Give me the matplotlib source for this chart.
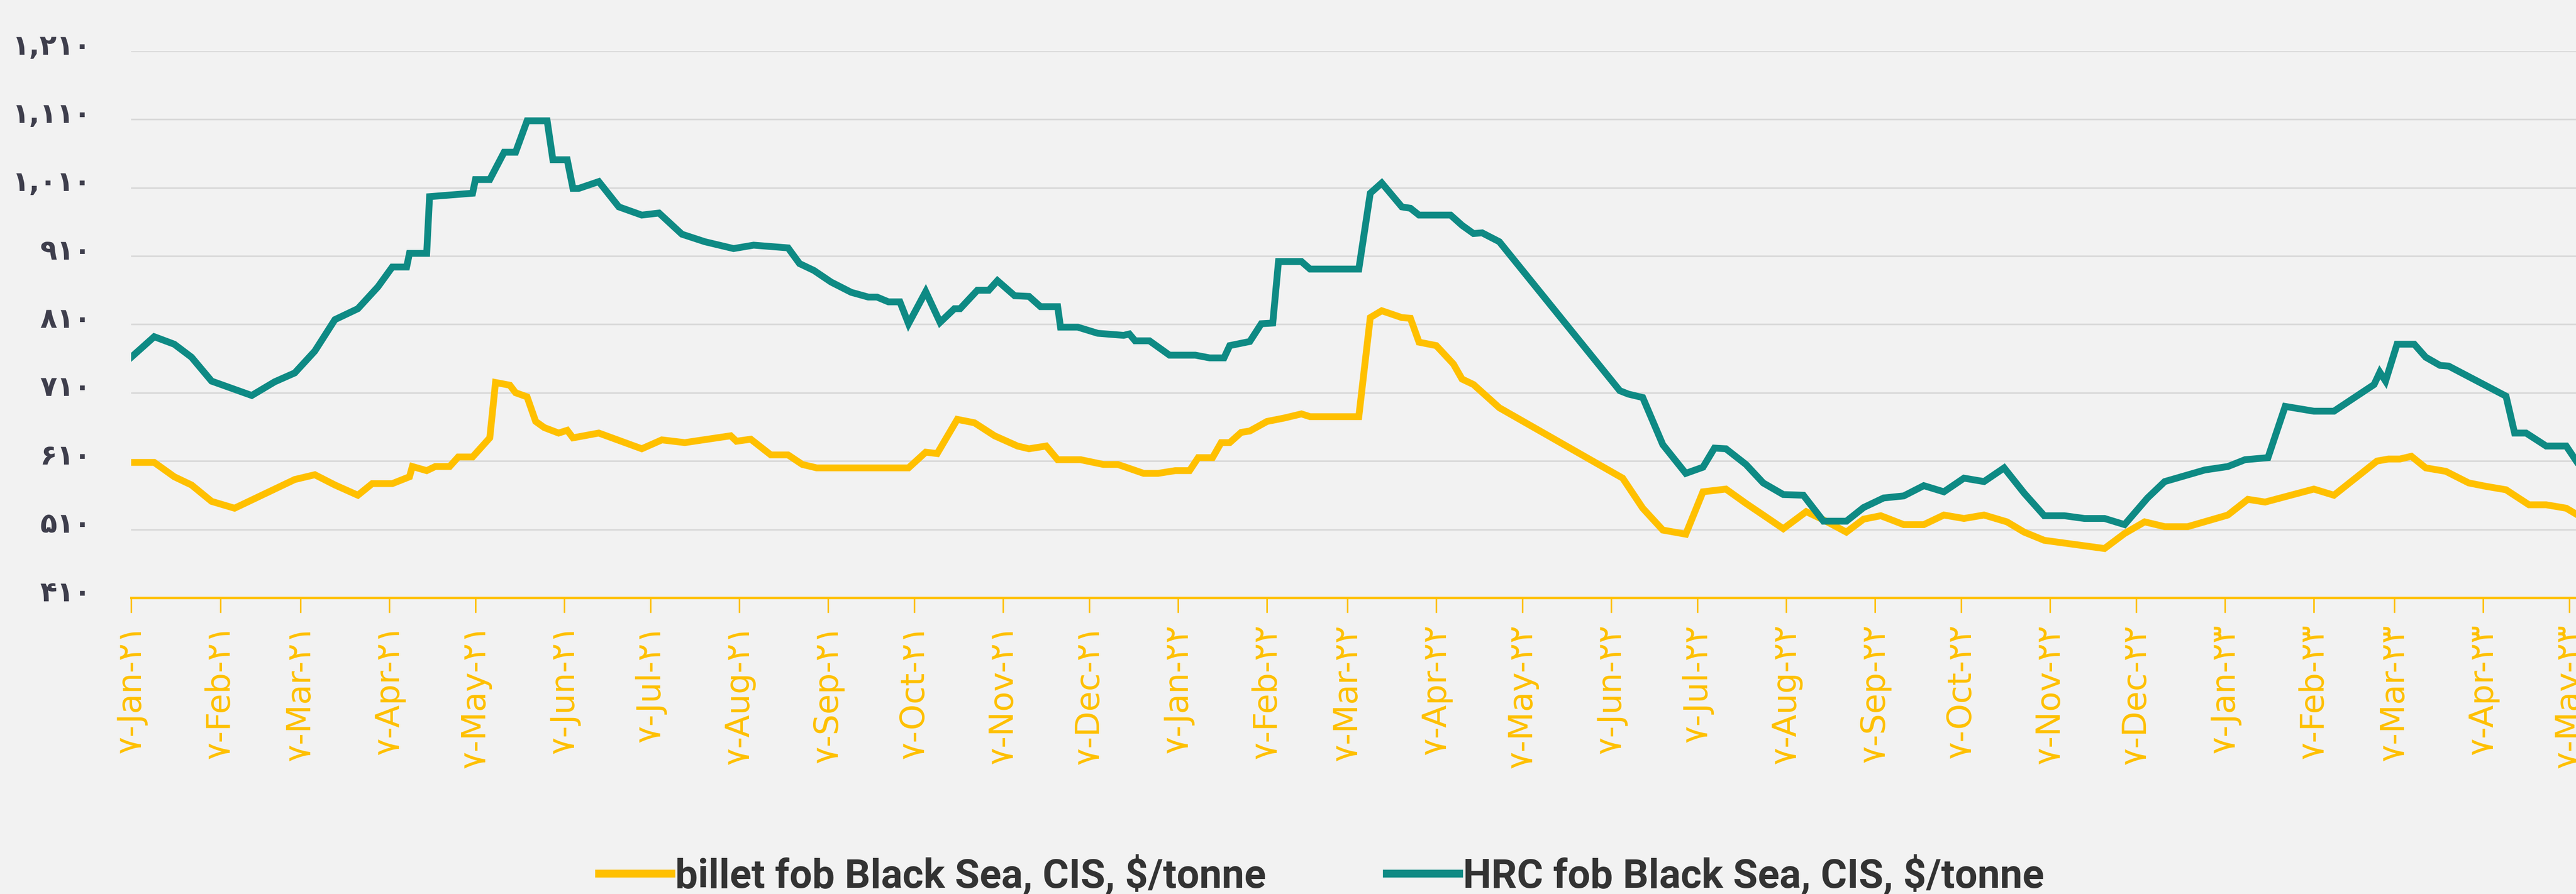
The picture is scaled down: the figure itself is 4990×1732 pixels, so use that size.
import numpy as np
import matplotlib
matplotlib.use("Agg")
import matplotlib.pyplot as plt
import matplotlib.dates as mdates
import matplotlib.transforms as mtransforms
from matplotlib.lines import Line2D

# ---------------- data (days since 7 Jan 2021, $/tonne) ----------------
start_date = "2021-01-07"

billet_days = [0, 8, 15, 21, 28, 36, 42, 50, 57, 64, 71, 79, 84, 91, 97, 98, 103, 106, 111, 114,
               119, 125, 127, 132, 134, 138, 141, 144, 149, 152, 154, 163, 178, 185, 193, 209, 211,
               216, 223, 229, 234, 239, 271, 277, 281, 288, 294, 301, 309, 313, 319, 323, 331, 339,
               344, 353, 358, 364, 369, 372, 377, 380, 383, 387, 390, 396, 402, 408, 411, 428, 432,
               436, 443, 446, 449, 455, 461, 464, 468, 477, 520, 527, 534, 542, 548, 556, 563, 569,
               576, 584, 590, 598, 604, 610, 618, 625, 632, 639, 646, 654, 660, 667, 688, 695, 702,
               709, 717, 731, 738, 744, 761, 768, 783, 787, 791, 795, 800, 807, 815, 821, 828, 836,
               842, 849, 853]
billet_vals = [608, 608, 587, 575, 551, 541, 553, 569, 583, 590, 575, 560, 577, 577, 587, 602, 596, 602, 602, 616,
               616, 644, 725, 721, 710, 704, 668, 659, 651, 655, 644, 651, 628, 641, 637, 647, 639,
               642, 619, 619, 605, 600, 600, 623, 621, 671, 666, 647, 632, 628, 632, 612, 612, 605,
               605, 592, 592, 596, 596, 615, 615, 637, 637, 652, 654, 668, 673, 679, 675, 675, 820,
               830, 820, 819, 784, 779, 752, 730, 722, 688, 585, 541, 509, 503, 565, 569, 548, 531,
               511, 536, 524, 506, 525, 530, 517, 517, 531, 526, 531, 521, 506, 494, 482, 504, 521,
               514, 514, 531, 554, 550, 569, 560, 610, 613, 613, 617, 600, 595, 578, 573, 568, 546,
               546, 541, 531]

hrc_days = [0, 8, 15, 21, 28, 36, 42, 50, 57, 64, 71, 79, 86, 91, 96, 97, 103, 104, 110, 119,
            120, 125, 130, 134, 138, 145, 147, 152, 154, 156, 163, 170, 178, 184, 192, 200, 210,
            217, 229, 233, 238, 244, 251, 257, 260, 264, 268, 271, 277, 282, 287, 289, 295, 299,
            302, 308, 313, 317, 323, 324, 330, 337, 346, 348, 350, 355, 362, 371, 376, 381, 383,
            390, 394, 398, 400, 408, 411, 428, 432, 436, 443, 446, 449, 460, 464, 468, 471, 477,
            519, 522, 527, 534, 542, 548, 552, 556, 563, 569, 576, 583, 590, 598, 604, 611, 618,
            625, 632, 639, 646, 653, 660, 667, 674, 681, 688, 695, 703, 709, 723, 731, 737, 745,
            751, 761, 768, 782, 784, 786, 790, 796, 800, 805, 808, 828, 831, 835, 842, 849, 853]
hrc_vals = [762, 792, 781, 762, 727, 715, 706, 726, 739, 771, 817, 833, 865, 894, 894, 914, 914, 997, 999, 1002,
            1022, 1022, 1062, 1062, 1108, 1108, 1051, 1051, 1009, 1009, 1019, 982, 970, 973, 942, 931, 921,
            926, 922, 899, 889, 872, 857, 850, 850, 843, 843, 811, 858, 813, 833, 833, 860, 860,
            874, 852, 851, 836, 836, 806, 806, 797, 794, 796, 786, 786, 765, 765, 761, 761, 779,
            785, 811, 812, 902, 902, 891, 891, 1002, 1017, 982, 980, 970, 970, 955, 943, 944, 931,
            713, 708, 703, 634, 592, 601, 629, 628, 605, 578, 561, 560, 522, 522, 542, 556, 559,
            574, 565, 585, 580, 600, 563, 530, 530, 526, 526, 517, 556, 580, 597, 602, 612, 615,
            690, 683, 683, 722, 740, 727, 781, 781, 762, 750, 749, 705, 651, 651, 632, 632, 607]

y_ticks = [410, 510, 610, 710, 810, 910, 1010, 1110, 1210]
y_tick_labels = ["۴۱۰", "۵۱۰", "۶۱۰", "۷۱۰", "۸۱۰", "۹۱۰", "۱,۰۱۰", "۱,۱۱۰", "۱,۲۱۰"]

tick_dates = ["2021-01-07", "2021-02-07", "2021-03-07", "2021-04-07", "2021-05-07", "2021-06-07",
              "2021-07-07", "2021-08-07", "2021-09-07", "2021-10-07", "2021-11-07", "2021-12-07",
              "2022-01-07", "2022-02-07", "2022-03-07", "2022-04-07", "2022-05-07", "2022-06-07",
              "2022-07-07", "2022-08-07", "2022-09-07", "2022-10-07", "2022-11-07", "2022-12-07",
              "2023-01-07", "2023-02-07", "2023-03-07", "2023-04-07", "2023-05-07"]
x_tick_labels = ["۷-Jan-۲۱", "۷-Feb-۲۱", "۷-Mar-۲۱", "۷-Apr-۲۱", "۷-May-۲۱", "۷-Jun-۲۱",
                 "۷-Jul-۲۱", "۷-Aug-۲۱", "۷-Sep-۲۱", "۷-Oct-۲۱", "۷-Nov-۲۱", "۷-Dec-۲۱",
                 "۷-Jan-۲۲", "۷-Feb-۲۲", "۷-Mar-۲۲", "۷-Apr-۲۲", "۷-May-۲۲", "۷-Jun-۲۲",
                 "۷-Jul-۲۲", "۷-Aug-۲۲", "۷-Sep-۲۲", "۷-Oct-۲۲", "۷-Nov-۲۲", "۷-Dec-۲۲",
                 "۷-Jan-۲۳", "۷-Feb-۲۳", "۷-Mar-۲۳", "۷-Apr-۲۳", "۷-May-۲۳"]

series_names = ["billet fob Black Sea, CIS, $/tonne", "HRC fob Black Sea, CIS, $/tonne"]

# ---------------- styling ----------------
BG = "#F2F2F2"
YELLOW = "#FFC000"
TEAL = "#0E8A84"
GRID = "#D9D9D9"
TXT = "#3E3E4C"

W, H = 4990, 1732
fig = plt.figure(figsize=(W / 100, H / 100), dpi=100, facecolor=BG)
left_px, top_px, bottom_px = 254.3, 99, 1158
ax = fig.add_axes([left_px / W, 1 - bottom_px / H, 1 - left_px / W, (bottom_px - top_px) / H])
ax.set_facecolor(BG)

base = np.datetime64(start_date)
bx = base + np.array(billet_days, dtype="timedelta64[D]")
hx = base + np.array(hrc_days, dtype="timedelta64[D]")

ax.plot(bx, billet_vals, color=YELLOW, lw=9.5, solid_joinstyle="miter", zorder=3)
ax.plot(hx, hrc_vals, color=TEAL, lw=9.5, solid_joinstyle="miter", zorder=4)

x0 = mdates.date2num(base)
ax.set_xlim(x0, x0 + 852.4)
ax.set_ylim(410, 1210)

ax.set_yticks(y_ticks)
ax.set_yticklabels(y_tick_labels)
ax.tick_params(axis="y", length=0, pad=56, labelsize=39, labelcolor=TXT)
shift_up = mtransforms.ScaledTranslation(0, 10 / 72, fig.dpi_scale_trans)
for lab in ax.get_yticklabels():
    lab.set_fontweight("bold")
    lab.set_family(["DejaVu Sans"])
    lab.set_transform(lab.get_transform() + shift_up)

tick_pos = [mdates.date2num(np.datetime64(d)) for d in tick_dates]
ax.set_xticks(tick_pos)
ax.set_xticklabels(x_tick_labels, rotation=90, ha="center", va="top")
ax.tick_params(axis="x", length=21, width=2.2, color=YELLOW, pad=16, labelsize=46,
               labelcolor=YELLOW)
for lab in ax.get_xticklabels():
    lab.set_family(["DejaVu Sans"])

ax.grid(axis="y", color=GRID, lw=2.3, zorder=0)
ax.set_axisbelow(True)
for s in ["top", "right", "left"]:
    ax.spines[s].set_visible(False)
ax.spines["bottom"].set_color(YELLOW)
ax.spines["bottom"].set_linewidth(3.5)
ax.spines["bottom"].set_zorder(5)

handles = [Line2D([], [], color=YELLOW, lw=11), Line2D([], [], color=TEAL, lw=11)]
leg = fig.legend(handles, series_names, loc="center", bbox_to_anchor=(0.513, 1 - 1696 / H),
                 ncol=2, frameon=False, handlelength=1.8, handletextpad=0.1, columnspacing=3.0,
                 prop={"family": ["Roboto"], "size": 56, "weight": "bold"})
for t in leg.get_texts():
    t.set_color("#333333")

fig.savefig("out.png", dpi=100, facecolor=BG)
